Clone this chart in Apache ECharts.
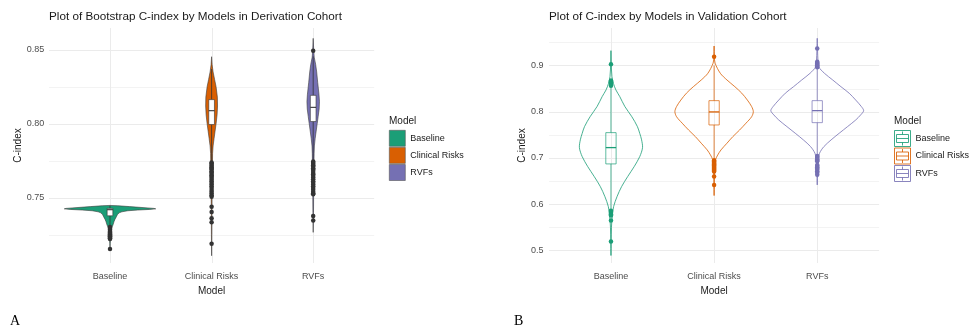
<!DOCTYPE html>
<html>
<head>
<meta charset="utf-8">
<script src="https://cdn.jsdelivr.net/npm/echarts@6/dist/echarts.min.js"></script>
<style>
html,body{margin:0;padding:0;background:#fff;}
#chart{width:969px;height:331px;}
</style>
</head>
<body>
<div id="chart"></div>
<script>
// ---- data -------------------------------------------------------------
const models = ['Baseline', 'Clinical Risks', 'RVFs'];
const modelColors = ['#1B9E77', '#D95F02', '#7570B3'];

// Derivation cohort (bootstrap) – violin profiles: [C-index, relative density]
const derivBaselineDensity = [
  [0.7448, 0], [0.7446, 0.17], [0.7440, 0.43], [0.7434, 0.70], [0.7428, 0.96],
  [0.7425, 1.00], [0.7421, 0.87], [0.7417, 0.61], [0.7412, 0.39], [0.7405, 0.26],
  [0.7398, 0.20], [0.7385, 0.16], [0.7372, 0.14], [0.7355, 0.11], [0.7338, 0.087],
  [0.7316, 0.065], [0.7300, 0.043], [0.7280, 0.026], [0.7250, 0.015], [0.7220, 0.009],
  [0.7190, 0.004], [0.7153, 0]
];
const derivClinicalDensity = [
  [0.8453, 0], [0.8400, 0.011], [0.8350, 0.033], [0.8300, 0.065], [0.8250, 0.098],
  [0.8180, 0.126], [0.8120, 0.130], [0.8060, 0.120], [0.8000, 0.098], [0.7950, 0.076],
  [0.7900, 0.054], [0.7850, 0.033], [0.7800, 0.022], [0.7700, 0.017], [0.7600, 0.013],
  [0.7500, 0.009], [0.7400, 0.0065], [0.7250, 0.004], [0.7108, 0]
];
const derivRvfDensity = [
  [0.8577, 0], [0.8500, 0.011], [0.8450, 0.022], [0.8400, 0.054], [0.8350, 0.076],
  [0.8280, 0.098], [0.8200, 0.126], [0.8150, 0.137], [0.8100, 0.130], [0.8050, 0.109],
  [0.8000, 0.087], [0.7950, 0.065], [0.7900, 0.043], [0.7850, 0.026], [0.7800, 0.020],
  [0.7700, 0.015], [0.7600, 0.011], [0.7500, 0.009], [0.7400, 0.0065], [0.7266, 0]
];
// box statistics: [lower whisker, Q1, median, Q3, upper whisker]
const derivBaselineBox = [0.7305, 0.7378, 0.7419, 0.7428, 0.7446];
const derivClinicalBox = [0.7745, 0.7995, 0.8088, 0.8163, 0.8370];
const derivRvfBox = [0.7752, 0.8015, 0.8111, 0.8192, 0.8455];
const derivBaselineOutliers = [0.7302, 0.7297, 0.7289, 0.7284, 0.7276, 0.7271, 0.7265, 0.7258,
  0.7253, 0.7247, 0.7240, 0.7236, 0.7231, 0.7226, 0.7221, 0.7153];
const derivClinicalOutliers = [0.7738, 0.7731, 0.7722, 0.7715, 0.7706, 0.7698, 0.7690, 0.7679,
  0.7671, 0.7660, 0.7652, 0.7641, 0.7633, 0.7622, 0.7611, 0.7600, 0.7590, 0.7578, 0.7565,
  0.7553, 0.7541, 0.7528, 0.7516, 0.7507, 0.7439, 0.7403, 0.7361, 0.7334, 0.7189];
const derivRvfOutliers = [0.8493, 0.7745, 0.7737, 0.7728, 0.7719, 0.7711, 0.7700, 0.7690,
  0.7681, 0.7668, 0.7659, 0.7648, 0.7636, 0.7625, 0.7612, 0.7601, 0.7590, 0.7577, 0.7565,
  0.7554, 0.7541, 0.7530, 0.7523, 0.7376, 0.7347];
const derivTicks = [0.75, 0.80, 0.85];
const derivMinorTicks = [0.725, 0.775, 0.825];

// Validation cohort – violin profiles: [C-index, relative density]
const validBaselineDensity = [
  [0.932, 0], [0.9046, 0.006], [0.8757, 0.021], [0.861, 0.053], [0.847, 0.106],
  [0.8325, 0.19], [0.811, 0.30], [0.789, 0.45], [0.7676, 0.57], [0.753, 0.62],
  [0.739, 0.66], [0.722, 0.68], [0.7027, 0.62], [0.681, 0.50], [0.6595, 0.36],
  [0.638, 0.23], [0.616, 0.13], [0.5946, 0.057], [0.573, 0.026], [0.55, 0.011],
  [0.52, 0.004], [0.4887, 0]
];
const validClinicalDensity = [
  [0.942, 0], [0.919, 0.006], [0.905, 0.021], [0.883, 0.134], [0.8685, 0.277],
  [0.854, 0.447], [0.84, 0.596], [0.825, 0.717], [0.811, 0.809], [0.80, 0.845],
  [0.789, 0.809], [0.775, 0.687], [0.760, 0.547], [0.746, 0.404], [0.7317, 0.277],
  [0.7172, 0.149], [0.7064, 0.079], [0.696, 0.032], [0.675, 0.013], [0.645, 0.005],
  [0.6184, 0]
];
const validRvfDensity = [
  [0.9587, 0], [0.936, 0.006], [0.908, 0.017], [0.8973, 0.028], [0.883, 0.155],
  [0.8685, 0.334], [0.854, 0.511], [0.84, 0.687], [0.825, 0.83], [0.811, 0.951],
  [0.802, 1.0], [0.793, 0.936], [0.782, 0.83], [0.7676, 0.653], [0.7533, 0.474],
  [0.7388, 0.298], [0.7243, 0.143], [0.71, 0.049], [0.696, 0.021], [0.67, 0.008],
  [0.6415, 0]
];
const validBaselineBox = [0.588, 0.6869, 0.7222, 0.7546, 0.853];
const validClinicalBox = [0.697, 0.7712, 0.7994, 0.8238, 0.900];
const validRvfBox = [0.706, 0.7762, 0.8022, 0.8238, 0.894];
const validBaselineOutliers = [0.9025, 0.8672, 0.8655, 0.8638, 0.8601, 0.8562,
  0.5858, 0.5832, 0.5805, 0.5778, 0.5752, 0.5643, 0.5190];
const validClinicalOutliers = [0.919, 0.6948, 0.6925, 0.6902, 0.6880, 0.6861, 0.6838,
  0.6815, 0.6790, 0.6772, 0.6749, 0.6728, 0.6705, 0.6595, 0.6415];
const validRvfOutliers = [0.9365, 0.9078, 0.9060, 0.9042, 0.9021, 0.9002, 0.8985, 0.8962,
  0.7042, 0.7020, 0.6995, 0.6972, 0.6950, 0.6925, 0.6848, 0.6822, 0.6795, 0.6770,
  0.6741, 0.6712, 0.6680, 0.6632];
const validTicks = [0.5, 0.6, 0.7, 0.8, 0.9];
const validMinorTicks = [0.55, 0.65, 0.75, 0.85, 0.95];

// ---- helpers ----------------------------------------------------------
const FONT = "'Liberation Sans', Arial, Helvetica, sans-serif";

function gridLines(idx, major, minor) {
  const rows = major.map(v => [0, v, 1]).concat(minor.map(v => [0, v, 0]));
  return [{
    type: 'custom', xAxisIndex: idx, yAxisIndex: idx, silent: true, z: 0,
    data: rows,
    renderItem(params, api) {
      const cs = params.coordSys;
      const ext = api.size([1, 0])[0] * 0.1;
      const y = Math.round(api.coord([0, api.value(1)])[1]) + 0.5;
      const isMajor = api.value(2) === 1;
      return {
        type: 'line',
        shape: { x1: cs.x - ext, y1: y, x2: cs.x + cs.width + ext, y2: y },
        style: { stroke: isMajor ? '#EBEBEB' : '#F3F3F3', lineWidth: 1 }
      };
    }
  }, {
    type: 'custom', xAxisIndex: idx, yAxisIndex: idx, silent: true, z: 0,
    data: models.map((m, i) => [i, major[0]]),
    renderItem(params, api) {
      const cs = params.coordSys;
      const x = Math.round(api.coord([params.dataIndex, major[0]])[0]) + 0.5;
      return {
        type: 'line',
        shape: { x1: x, y1: cs.y, x2: x, y2: cs.y + cs.height },
        style: { stroke: '#EBEBEB', lineWidth: 1 }
      };
    }
  }];
}

function violin(name, idx, cat, profile, style, smooth) {
  return {
    type: 'custom', name, xAxisIndex: idx, yAxisIndex: idx, silent: true, z: 2,
    data: [[cat, profile[0][0]]],
    renderItem(params, api) {
      const half = api.size([1, 0])[0] * 0.45;
      const cx = api.coord([cat, profile[0][0]])[0];
      const pts = [];
      profile.forEach(([v, d]) => pts.push([cx + d * half, api.coord([cat, v])[1]]));
      for (let k = profile.length - 1; k >= 0; k--) {
        const [v, d] = profile[k];
        pts.push([cx - d * half, api.coord([cat, v])[1]]);
      }
      return { type: 'polygon', shape: { points: pts, smooth: smooth }, style: style };
    }
  };
}

function boxes(idx, stats, widthFrac, styles) {
  return {
    type: 'custom', xAxisIndex: idx, yAxisIndex: idx, silent: true, z: 4,
    data: stats.map((s, i) => [i].concat(s)),
    renderItem(params, api) {
      const i = params.dataIndex;
      const st = styles[i];
      const hw = api.size([1, 0])[0] * widthFrac / 2;
      const cx = api.coord([i, api.value(3)])[0];
      const y = k => api.coord([i, api.value(k)])[1];
      const lo = y(1), q1 = y(2), md = y(3), q3 = y(4), hi = y(5);
      return {
        type: 'group',
        children: [
          { type: 'line', shape: { x1: cx, y1: hi, x2: cx, y2: q3 }, style: st.whisker },
          { type: 'line', shape: { x1: cx, y1: q1, x2: cx, y2: lo }, style: st.whisker },
          { type: 'rect', shape: { x: cx - hw, y: q3, width: hw * 2, height: q1 - q3 }, style: st.box },
          { type: 'line', shape: { x1: cx - hw, y1: md, x2: cx + hw, y2: md }, style: st.median }
        ]
      };
    }
  };
}

function outliers(idx, cat, values, color, size) {
  return {
    type: 'scatter', xAxisIndex: idx, yAxisIndex: idx, silent: true, z: 5,
    symbolSize: size,
    itemStyle: { color: color, opacity: 1 },
    data: values.map(v => [cat, v])
  };
}

// ---- panels -----------------------------------------------------------
const derivDensities = [derivBaselineDensity, derivClinicalDensity, derivRvfDensity];
const validDensities = [validBaselineDensity, validClinicalDensity, validRvfDensity];
const derivOutliers = [derivBaselineOutliers, derivClinicalOutliers, derivRvfOutliers];
const validOutliers = [validBaselineOutliers, validClinicalOutliers, validRvfOutliers];

const series = [];
series.push(...gridLines(0, derivTicks, derivMinorTicks));
series.push(...gridLines(1, validTicks, validMinorTicks));

models.forEach((m, i) => {
  series.push(violin(m, 0, i, derivDensities[i],
    { fill: modelColors[i], stroke: '#3a3a3a', lineWidth: 0.6 }, 0));
  series.push(violin(m, 1, i, validDensities[i],
    { fill: 'none', stroke: modelColors[i], lineWidth: 1, opacity: 0.8 }, 0.3));
});

const derivBoxStyle = models.map(() => ({
  whisker: { stroke: '#333', lineWidth: 0.8 },
  box: { fill: '#fff', stroke: '#333', lineWidth: 0.6 },
  median: { stroke: '#222', lineWidth: 1 }
}));
const validBoxStyle = modelColors.map(c => ({
  whisker: { stroke: c, lineWidth: 1, opacity: 0.75 },
  box: { fill: 'none', stroke: c, lineWidth: 1, opacity: 0.7 },
  median: { stroke: c, lineWidth: 1.3 }
}));
series.push(boxes(0, [derivBaselineBox, derivClinicalBox, derivRvfBox], 0.056, derivBoxStyle));
series.push(boxes(1, [validBaselineBox, validClinicalBox, validRvfBox], 0.10, validBoxStyle));

models.forEach((m, i) => {
  series.push(outliers(0, i, derivOutliers[i], '#333', 4.5));
  series.push(outliers(1, i, validOutliers[i], modelColors[i], 4.5));
});

const boxKeyPath = 'path://M0,0H16V16H0Z M2,4H14V12H2Z M2,8H14 M8,1V4 M8,12V15';

function axisPair(idx, min, max, ticks, digits) {
  return {
    x: {
      type: 'category', gridIndex: idx, data: models,
      axisLine: { show: false }, axisTick: { show: false }, splitLine: { show: false },
      axisLabel: { color: '#4D4D4D', fontSize: 9, fontFamily: FONT, margin: 9 },
      name: 'Model', nameLocation: 'middle', nameGap: 18,
      nameTextStyle: { color: '#1a1a1a', fontSize: 10, fontFamily: FONT }
    },
    y: {
      type: 'value', gridIndex: idx, min: min, max: max,
      axisLine: { show: false }, axisTick: { show: false }, splitLine: { show: false },
      axisLabel: {
        color: '#4D4D4D', fontSize: 9, fontFamily: FONT, margin: idx === 0 ? 15 : 16,
        customValues: ticks, formatter: v => Number(v).toFixed(digits)
      },
      name: 'C-index', nameLocation: 'middle', nameRotate: 90, nameGap: idx === 0 ? 31 : 29,
      nameTextStyle: { color: '#1a1a1a', fontSize: 10, fontFamily: FONT }
    }
  };
}
const ax0 = axisPair(0, 0.7059, 0.8647, derivTicks, 2);
const ax1 = axisPair(1, 0.4725, 0.981, validTicks, 1);

const option = {
  backgroundColor: '#fff',
  animation: false,
  title: [
    { text: 'Plot of Bootstrap C-index by Models in Derivation Cohort', left: 49, top: 11, padding: 0,
      textStyle: { fontSize: 11.7, fontWeight: 'normal', color: '#1a1a1a', fontFamily: FONT } },
    { text: 'Plot of C-index by Models in Validation Cohort', left: 549, top: 11, padding: 0,
      textStyle: { fontSize: 11.7, fontWeight: 'normal', color: '#1a1a1a', fontFamily: FONT } },
    { text: 'Model', left: 389, top: 116, padding: 0,
      textStyle: { fontSize: 10, fontWeight: 'normal', color: '#1a1a1a', fontFamily: FONT } },
    { text: 'Model', left: 894, top: 116, padding: 0,
      textStyle: { fontSize: 10, fontWeight: 'normal', color: '#1a1a1a', fontFamily: FONT } },
    { text: 'A', left: 10, top: 314, padding: 0,
      textStyle: { fontSize: 14, fontWeight: 'normal', color: '#000', fontFamily: "'Liberation Serif', 'Times New Roman', serif" } },
    { text: 'B', left: 514, top: 314, padding: 0,
      textStyle: { fontSize: 14, fontWeight: 'normal', color: '#000', fontFamily: "'Liberation Serif', 'Times New Roman', serif" } }
  ],
  legend: [
    {
      left: 389, top: 130, orient: 'vertical', padding: 0, itemGap: 0.5,
      itemWidth: 16, itemHeight: 16, selectedMode: false,
      textStyle: { fontSize: 9, color: '#1a1a1a', fontFamily: FONT },
      data: models.map((m, i) => ({
        name: m, icon: 'rect',
        itemStyle: { color: modelColors[i], borderColor: '#555', borderWidth: 0.6 }
      }))
    },
    {
      left: 894, top: 130, orient: 'vertical', padding: 0, itemGap: 0.5,
      itemWidth: 16, itemHeight: 16, selectedMode: false,
      textStyle: { fontSize: 9, color: '#1a1a1a', fontFamily: FONT },
      data: models.map((m, i) => ({
        name: m, icon: boxKeyPath,
        itemStyle: { color: 'rgba(0,0,0,0)', borderColor: modelColors[i], borderWidth: 1, opacity: 0.85 }
      }))
    }
  ],
  grid: [
    { left: 59.2, width: 304.8, top: 28, height: 235, containLabel: false, outerBoundsMode: 'none' },
    { left: 559.4, width: 309.4, top: 28, height: 235, containLabel: false, outerBoundsMode: 'none' }
  ],
  xAxis: [ax0.x, ax1.x],
  yAxis: [ax0.y, ax1.y],
  series: series
};

const chart = echarts.init(document.getElementById('chart'), null, { renderer: 'canvas' });
chart.setOption(option);
</script>
</body>
</html>
